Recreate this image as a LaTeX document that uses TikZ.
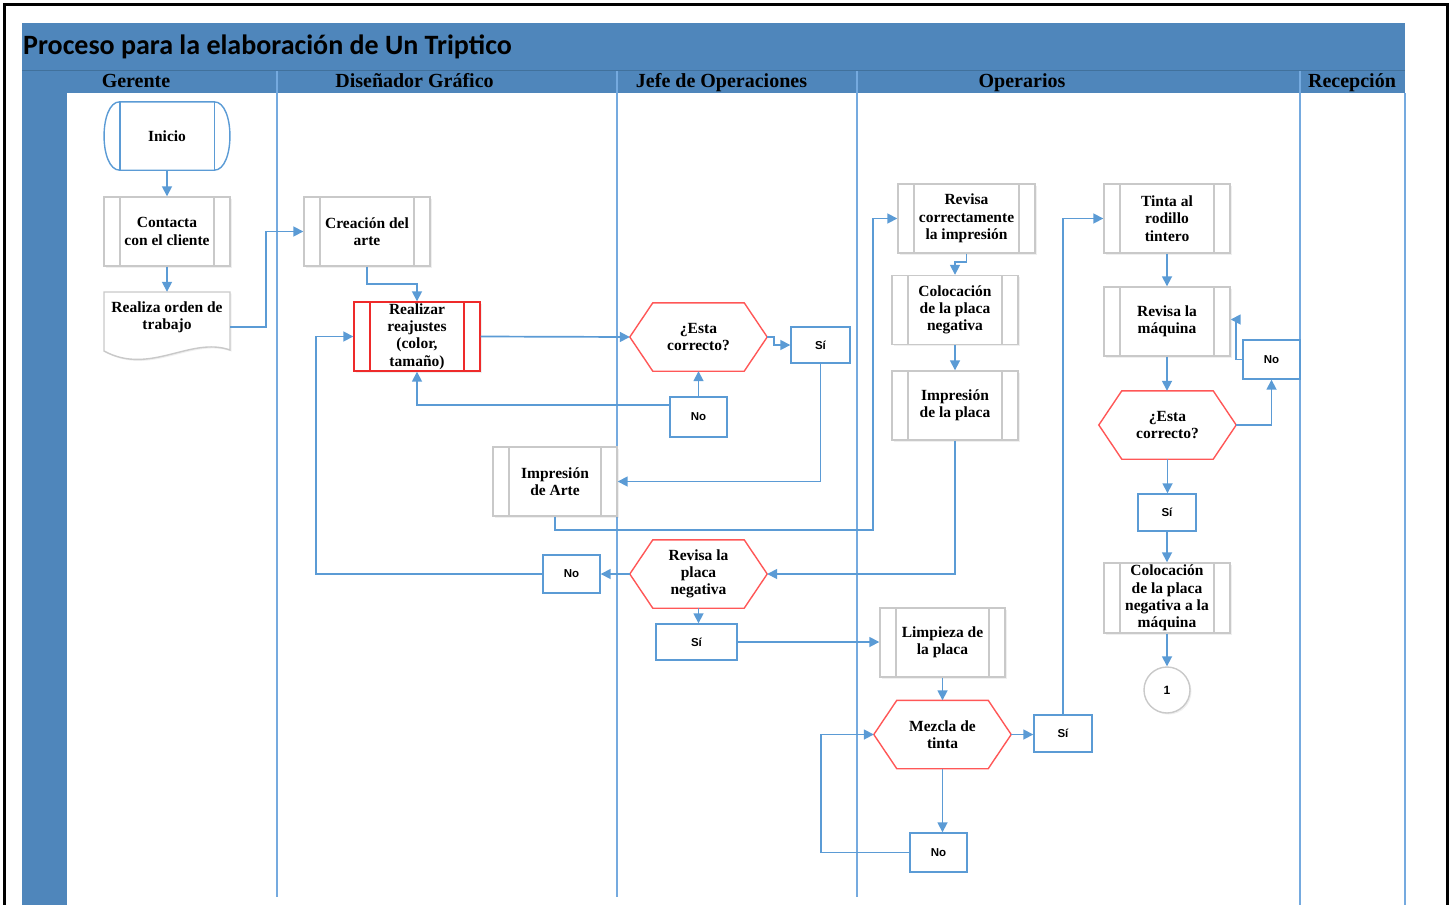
\documentclass[tikz,border=0pt]{standalone}
\usepackage{fontspec}
\setmainfont{Liberation Serif}
\newfontfamily\sansfam{Liberation Sans}
\newfontfamily\titlefam{Carlito}
\usetikzlibrary{arrows.meta,calc,shadows}

\definecolor{bandblue}{HTML}{4F86BB}
\definecolor{bandedge}{HTML}{41719C}
\definecolor{flowblue}{HTML}{5B9BD5}
\definecolor{lanelineblue}{HTML}{75AADF}
\definecolor{boxgray}{HTML}{C9C9C9}
\definecolor{procred}{HTML}{EE2A2A}
\definecolor{decred}{HTML}{FF5757}

% outline of a decision hexagon drawn around a named node
\newcommand{\hexoutline}[1]{%
  \draw[decred, line width=1.4pt, line join=miter]
    (#1.west) -- ([xshift=23pt]#1.north west) -- ([xshift=-23pt]#1.north east)
    -- (#1.east) -- ([xshift=-23pt]#1.south east) -- ([xshift=23pt]#1.south west) -- cycle;}

\begin{document}
\begin{tikzpicture}[x=1pt, y=-1pt,
  txt/.style={font=\fontsize{15.5}{17.3}\selectfont\bfseries, align=center, inner sep=0pt},
  proc/.style={txt, draw=#1, line width=1.4pt, fill=white,
    minimum width=126pt, minimum height=69pt,
    drop shadow={shadow xshift=1.5pt, shadow yshift=-1.5pt, opacity=0.13},
    path picture={\draw[#1, line width=1.4pt]
      ([xshift=16pt]path picture bounding box.north west) -- ([xshift=16pt]path picture bounding box.south west)
      ([xshift=-16pt]path picture bounding box.north east) -- ([xshift=-16pt]path picture bounding box.south east);}},
  hexnode/.style={txt, minimum width=137pt, minimum height=68pt},
  yn/.style={draw=flowblue, line width=1.4pt, fill=white, inner sep=0pt,
    font=\sansfam\bfseries\fontsize{11.5}{13}\selectfont},
  conn/.style={draw=flowblue, line width=1.7pt, -{Triangle[length=10pt,width=10pt]}},
  laneline/.style={draw=lanelineblue, line width=2pt},
  lanelabel/.style={font=\fontsize{20}{22}\selectfont\bfseries, inner sep=0pt, anchor=base},
]
\useasboundingbox (0,0) rectangle (1452,905);

% page frame
\draw[black, line width=3pt] (4,905) -- (4,4) -- (1447,4) -- (1447,905);

% title band, lane header band and left stripe
\fill[bandblue] (22,23) rectangle (1405,93);
\fill[bandblue] (22,93) rectangle (67,905);
\draw[bandedge, line width=1pt] (22,70) -- (1405,70);

% lane dividers
\foreach \lx in {277,617,857} \draw[laneline] (\lx,71) -- (\lx,897);
\draw[laneline] (1300,71) -- (1300,905);
\draw[laneline] (1405,93) -- (1405,905);

% title and lane names
\node[anchor=base west, inner sep=0pt, font=\titlefam\bfseries\fontsize{28}{32}\selectfont] (titulo) at (23,54) {Proceso para la elaboración de Un Triptico};
\node[lanelabel] (lgerente) at (136,87) {Gerente};
\node[lanelabel] (ldisenador) at (414.5,87) {Diseñador Gráfico};
\node[lanelabel] (ljefe) at (721.5,87) {Jefe de Operaciones};
\node[lanelabel] (loperarios) at (1022,87) {Operarios};
\node[lanelabel] (lrecepcion) at (1352,87) {Recepción};

% Gerente
\node[txt, minimum width=94pt, minimum height=68pt] (inicio) at (167,136) {Inicio};
\draw[flowblue, line width=1.4pt]
  (inicio.north west) -- (inicio.north east)
  .. controls ([xshift=21pt]inicio.north east) and ([xshift=21pt]inicio.south east) .. (inicio.south east)
  -- (inicio.south west)
  .. controls ([xshift=-21pt]inicio.south west) and ([xshift=-21pt]inicio.north west) .. (inicio.north west);
\draw[flowblue, line width=1.4pt] (inicio.north west) -- (inicio.south west) (inicio.north east) -- (inicio.south east);

\node[proc=boxgray] (contacta) at (167,231.5) {Contacta\\con el cliente};

\draw[boxgray, line width=1.4pt, fill=white,
  drop shadow={shadow xshift=1.5pt, shadow yshift=-1.5pt, opacity=0.13}]
  (104,292) -- (230,292) -- (230,350) .. controls (190,336) and (150,376) .. (104,351) -- cycle;
\node[txt, minimum width=126pt, minimum height=50pt] (orden) at (167,317) {Realiza orden de\\trabajo};

% Diseñador Gráfico
\node[proc=boxgray] (creacion) at (367,231.5) {Creación del\\arte};
\node[proc=procred] (reajustes) at (417,336.5) {Realizar\\reajustes\\(color,\\tamaño)};
\node[proc=boxgray, minimum width=124pt] (imparte) at (555,481.5) {Impresión\\de Arte};

% Jefe de Operaciones
\node[hexnode] (hexa) at (698.5,337) {¿Esta\\correcto?};
\hexoutline{hexa}
\node[yn, minimum width=59pt, minimum height=36pt] (si1) at (820.5,345) {Sí};
\node[yn, minimum width=57pt, minimum height=40pt] (no1) at (698.5,417) {No};
\node[hexnode] (hexb) at (698.5,574) {Revisa la\\placa\\negativa};
\hexoutline{hexb}
\node[yn, minimum width=57pt, minimum height=38pt] (no2) at (571.5,574) {No};
\node[yn, minimum width=81pt, minimum height=36pt] (si2) at (696.5,642) {Sí};

% Operarios
\node[proc=boxgray, minimum width=137pt] (revcorr) at (966.5,218.5) {Revisa\\correctamente\\la impresión};
\node[proc=boxgray] (coloc1) at (955,310) {Colocación\\de la placa\\negativa};
\node[proc=boxgray] (impplaca) at (955,405.5) {Impresión\\de la placa};
\node[proc=boxgray, minimum width=125pt] (limpieza) at (942.5,642.5) {Limpieza de\\la placa};
\node[hexnode] (mezcla) at (942.5,734.5) {Mezcla de\\tinta};
\hexoutline{mezcla}
\node[yn, minimum width=58pt, minimum height=37pt] (si3) at (1063,733.5) {Sí};
\node[yn, minimum width=57pt, minimum height=39pt] (no3) at (938.5,852.5) {No};

\node[proc=boxgray] (tinta) at (1167,218.5) {Tinta al\\rodillo\\tintero};
\node[proc=boxgray] (revmaq) at (1167,321.5) {Revisa la\\máquina};
\node[hexnode] (hexc) at (1167.5,425) {¿Esta\\correcto?};
\hexoutline{hexc}
\node[yn, minimum width=57pt, minimum height=39pt] (no4) at (1271.5,359.5) {No};
\node[yn, minimum width=58pt, minimum height=37pt] (si4) at (1167,512.5) {Sí};
\node[proc=boxgray, minimum height=70pt] (coloc2) at (1167,598) {Colocación\\de la placa\\negativa a la\\máquina};
\node[circle, draw=boxgray, line width=1.4pt, fill=white, minimum size=46pt, inner sep=0pt,
  drop shadow={shadow xshift=1.5pt, shadow yshift=-1.5pt, opacity=0.13},
  font=\sansfam\bfseries\fontsize{12}{14}\selectfont] (circ) at (1167,690) {1};

% connectors
\draw[conn] (inicio.south) -- (contacta.north);
\draw[conn] (contacta.south) -- (orden.north);
\draw[conn] ([yshift=-10pt]orden.east) -- ++(36,0) |- (creacion.west);
\draw[conn] (creacion.south) -- ++(0,17) -| (reajustes.north);
\draw[conn] (reajustes.east) -- (hexa.west);
\draw[conn] (hexa.east) -- ++(7,0) |- (si1.west);
\draw[conn] (no1.north) -- (hexa.south);
\draw[conn] ([yshift=12pt]no1.west) -| (reajustes.south);
\draw[conn] (si1.south) |- (imparte.east);
\draw[conn] (imparte.south) -- ++(0,13) -| ([xshift=-24pt]revcorr.west) -- (revcorr.west);
\draw[conn] (revcorr.south) -- ++(0,8) -| (coloc1.north);
\draw[conn] (coloc1.south) -- (impplaca.north);
\draw[conn] (impplaca.south) |- (hexb.east);
\draw[conn] (hexb.west) -- (no2.east);
\draw[conn] (no2.west) -| ([xshift=-37pt]reajustes.west) -- (reajustes.west);
\draw[conn] (hexb.south) -- (hexb.south |- si2.north);
\draw[conn] (si2.east) -- (si2.east -| limpieza.west);
\draw[conn] (limpieza.south) -- (mezcla.north);
\draw[conn] (mezcla.east) -- (mezcla.east -| si3.west);
\draw[conn] (si3.north) |- (tinta.west);
\draw[conn] (mezcla.south) -- (mezcla.south |- no3.north);
\draw[conn] (no3.west) -| ([xshift=-53pt]mezcla.west) -- (mezcla.west);
\draw[conn] (tinta.south) -- (revmaq.north);
\draw[conn] (revmaq.south) -- (revmaq.south |- hexc.north);
\draw[conn] (hexc.east) -| (no4.south);
\draw[conn] (no4.west) -- ++(-6,0) |- ([yshift=2pt]revmaq.east);
\draw[conn] (hexc.south) -- (hexc.south |- si4.north);
\draw[conn] (si4.south) -- (coloc2.north);
\draw[conn] (coloc2.south) -- (circ.north);
\end{tikzpicture}
\end{document}
